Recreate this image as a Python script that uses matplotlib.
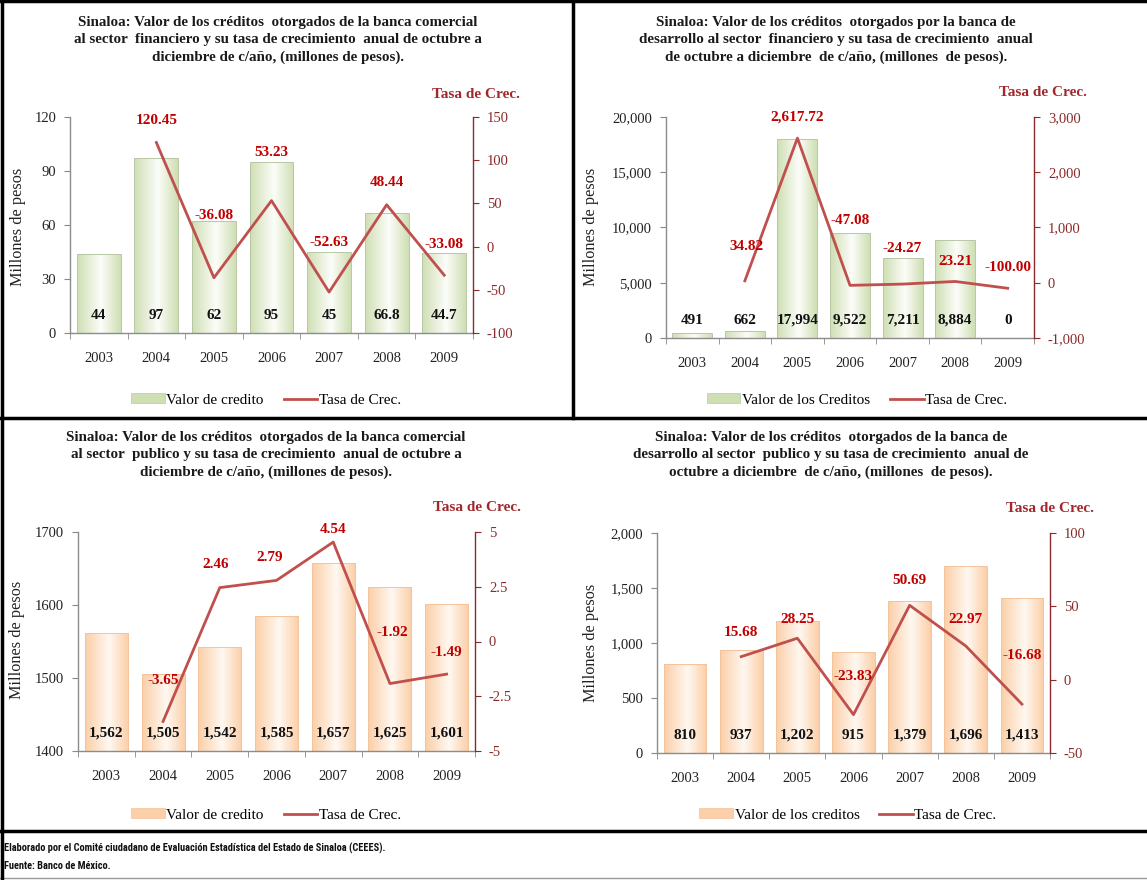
import numpy as np
import matplotlib
matplotlib.use("Agg")
import matplotlib.pyplot as plt
from matplotlib.colors import LinearSegmentedColormap
from matplotlib.patches import Patch
from matplotlib.lines import Line2D
from matplotlib.transforms import blended_transform_factory
from matplotlib import font_manager

plt.rcParams['font.family'] = ['Liberation Serif', 'DejaVu Serif']

years = ['2003', '2004', '2005', '2006', '2007', '2008', '2009']

# Panel 1: banca comercial, sector financiero
val_cf = [44, 97, 62, 95, 45, 66.8, 44.7]
tasa_cf = [np.nan, 120.45, -36.08, 53.23, -52.63, 48.44, -33.08]
# Panel 2: banca de desarrollo, sector financiero
val_df = [491, 662, 17994, 9522, 7211, 8884, 0]
tasa_df = [np.nan, 34.82, 2617.72, -47.08, -24.27, 23.21, -100.00]
# Panel 3: banca comercial, sector publico
val_cp = [1562, 1505, 1542, 1585, 1657, 1625, 1601]
tasa_cp = [np.nan, -3.65, 2.46, 2.79, 4.54, -1.92, -1.49]
# Panel 4: banca de desarrollo, sector publico
val_dp = [810, 937, 1202, 915, 1379, 1696, 1413]
tasa_dp = [np.nan, 15.68, 28.25, -23.83, 50.69, 22.97, -16.68]

titles = [
    "Sinaloa: Valor de los créditos  otorgados de la banca comercial\nal sector  financiero y su tasa de crecimiento  anual de octubre a\ndiciembre de c/año, (millones de pesos).",
    "Sinaloa: Valor de los créditos  otorgados por la banca de\ndesarrollo al sector  financiero y su tasa de crecimiento  anual\nde octubre a diciembre  de c/año, (millones  de pesos).",
    "Sinaloa: Valor de los créditos  otorgados de la banca comercial\nal sector  publico y su tasa de crecimiento  anual de octubre a\ndiciembre de c/año, (millones de pesos).",
    "Sinaloa: Valor de los créditos  otorgados de la banca de\ndesarrollo al sector  publico y su tasa de crecimiento  anual de\noctubre a diciembre  de c/año, (millones  de pesos).",
]
bar_names = ["Valor de credito", "Valor de los Creditos", "Valor de credito", "Valor de los creditos"]
footer = ["Elaborado por el Comité ciudadano de Evaluación Estadística del Estado de Sinaloa (CEEES).",
          "Fuente: Banco de México."]

W, H = 1147, 880
fig = plt.figure(figsize=(W / 100, H / 100), dpi=100)

LINE_C = '#c0504d'
LAB_C = '#c00000'
RAX_C = '#8b2a2a'
GREEN = ('#cfdfb4', '#fcfdf9', '#b9c8a4')
PEACH = ('#fbcfa8', '#fff8f1', '#f3c39c')


def px(x0, y0, x1, y1):
    return [x0 / W, 1 - y1 / H, (x1 - x0) / W, (y1 - y0) / H]


def panel(box, vals, rates, ylim, yticks, rlim, rticks, lfmt, rfmt, colors,
          title, tpos, tasa_pos, ylab_pos, leg_pos, bar_name, offsets):
    ax = fig.add_axes(px(*box))
    x = np.arange(len(years))
    edge, center, outline = colors
    base = ylim[0]
    heights = [v - base for v in vals]
    bars = ax.bar(x, heights, bottom=base, width=0.76, facecolor='none', edgecolor=outline,
                  linewidth=0.7, zorder=2.2)
    cmap = LinearSegmentedColormap.from_list('g', [(0, edge), (0.55, center), (1, edge)])
    grad = np.linspace(0, 1, 64).reshape(1, -1)
    for b in bars:
        bx, by = b.get_xy()
        if b.get_height() <= 0:
            continue
        im = ax.imshow(grad, extent=[bx, bx + b.get_width(), by, by + b.get_height()],
                       aspect='auto', cmap=cmap, zorder=2.1, interpolation='bilinear')
        im.set_clip_path(b)
    ax.set_xlim(-0.5, len(years) - 0.5)
    ax.set_ylim(*ylim)
    ax.set_yticks(yticks)
    ax.set_yticklabels([lfmt(v) for v in yticks])
    ax.set_xticks(x)
    ax.set_xticklabels(years)
    ax.set_xticks(np.arange(-0.5, len(years), 1), minor=True)
    ax.tick_params(axis='x', which='major', length=0, pad=14, labelsize=10.5, colors='#222222')
    ax.tick_params(axis='x', which='minor', length=4, color='#888888', direction='out')
    ax.tick_params(axis='y', length=4, color='#888888', labelsize=10.5, labelcolor='#222222', pad=6)
    for s in ['top', 'right']:
        ax.spines[s].set_visible(False)
    for s in ['left', 'bottom']:
        ax.spines[s].set_color('#8c8c8c')
        ax.spines[s].set_linewidth(1.0)
    trans = blended_transform_factory(ax.transData, ax.transAxes)
    for xi, v in zip(x, vals):
        ax.text(xi, 0.08, f"{v:,g}", transform=trans, ha='center', va='center',
                fontsize=11, fontweight='bold', color='#111111', zorder=5)

    ax2 = ax.twinx()
    ax2.plot(x, rates, color=LINE_C, linewidth=2.0, zorder=3)
    ax2.set_ylim(*rlim)
    ax2.set_yticks(rticks)
    ax2.set_yticklabels([rfmt(v) for v in rticks])
    ax2.set_xlim(-0.5, len(years) - 0.5)
    for s in ['top', 'left', 'bottom']:
        ax2.spines[s].set_visible(False)
    ax2.spines['right'].set_color(RAX_C)
    ax2.spines['right'].set_linewidth(1.0)
    ax2.tick_params(axis='y', length=4, color=RAX_C, labelsize=10.5, labelcolor=RAX_C, pad=6)
    for xi, r, off in zip(x, rates, offsets):
        if np.isnan(r):
            continue
        ax2.annotate(f"{r:,.2f}", (xi, r), xytext=(off[0], off[1]), textcoords='offset pixels',
                     ha='center', va='center', fontsize=11, fontweight='bold', color=LAB_C, zorder=6)

    fig.text(tpos[0] / W, 1 - tpos[1] / H, title, ha='center', va='top', fontsize=10.8,
             fontweight='bold', color='#1a1a1a', linespacing=1.42)
    fig.text(tasa_pos[0] / W, 1 - tasa_pos[1] / H, "Tasa de Crec.", ha='center', va='center',
             fontsize=11, fontweight='bold', color='#a0282d')
    fig.text(ylab_pos[0] / W, 1 - ylab_pos[1] / H, "Millones de pesos", ha='center', va='center',
             rotation=90, fontsize=11.7, color='#222222')
    handles = [Patch(facecolor=edge, edgecolor=outline, linewidth=0.5),
               Line2D([], [], color=LINE_C, linewidth=2.0)]
    ax.legend(handles, [bar_name, "Tasa de Crec."], loc='center', ncol=2, frameon=False,
              bbox_to_anchor=(leg_pos[0] / W, 1 - leg_pos[1] / H), bbox_transform=fig.transFigure,
              fontsize=11, handlelength=2.2, handleheight=0.6, handletextpad=0.1, columnspacing=1.3)


int_fmt = lambda v: f"{v:,.0f}"
plain_fmt = lambda v: f"{v:g}"

panel((70, 117, 473, 333), val_cf, tasa_cf, (0, 120), [0, 30, 60, 90, 120], (-100, 150),
      [-100, -50, 0, 50, 100, 150], plain_fmt, plain_fmt, GREEN, titles[0], (278, 16), (476, 95),
      (18, 227), (266, 400), bar_names[0],
      [(0, 0), (0, 22), (0, 62), (0, 48), (0, 50), (0, 22), (0, 31)])

panel((666, 117, 1034, 338), val_df, tasa_df, (0, 20000), [0, 5000, 10000, 15000, 20000],
      (-1000, 3000), [-1000, 0, 1000, 2000, 3000], int_fmt, int_fmt, GREEN, titles[1], (836, 16),
      (1043, 92), (591, 227), (857, 400), bar_names[1],
      [(0, 0), (2, 34), (0, 21), (0, 65), (0, 36), (0, 20), (0, 21)])

panel((78, 532, 475, 751), val_cp, tasa_cp, (1400, 1700), [1400, 1500, 1600, 1700], (-5, 5),
      [-5, -2.5, 0, 2.5, 5], plain_fmt, plain_fmt, PEACH, titles[2], (266, 431), (477, 507),
      (17, 640), (266, 815), bar_names[2],
      [(0, 0), (0, 41), (-4, 23), (-7, 23), (0, 13), (2, 51), (0, 22)])

panel((657, 533, 1050, 753), val_dp, tasa_dp, (0, 2000), [0, 500, 1000, 1500, 2000], (-50, 100),
      [-50, 0, 50, 100], int_fmt, plain_fmt, PEACH, titles[3], (831, 431), (1050, 508),
      (591, 643), (848, 815), bar_names[3],
      [(0, 0), (0, 24), (0, 19), (0, 38), (0, 25), (0, 26), (0, 49)])


# frame lines
def hline(y, x0, x1, lw, c='black'):
    fig.add_artist(Line2D([x0 / W, x1 / W], [1 - y / H, 1 - y / H], color=c, linewidth=lw,
                          transform=fig.transFigure))


def vline(x, y0, y1, lw, c='black'):
    fig.add_artist(Line2D([x / W, x / W], [1 - y0 / H, 1 - y1 / H], color=c, linewidth=lw,
                          transform=fig.transFigure))


hline(1, 0, W, 2.5)
hline(418, 0, W, 2.5)
hline(831, 0, W, 2.5)
hline(878, 0, W, 1.0, '#999999')
vline(1.5, 0, 880, 2.5)
vline(573, 0, 418, 2.5)

available = {f.name for f in font_manager.fontManager.ttflist}
narrow = [n for n in ['Roboto Condensed', 'Liberation Sans Narrow', 'Open Sans Condensed']
          if n in available]
if narrow:
    foot_fam, foot_size = [narrow[0], 'DejaVu Sans'], 7.5
else:
    foot_fam, foot_size = ['DejaVu Sans'], 5.6

fig.text(4 / W, 1 - 848 / H, footer[0], ha='left', va='center', fontsize=foot_size,
         fontweight='bold', family=foot_fam, color='#111111')
fig.text(4 / W, 1 - 866 / H, footer[1], ha='left', va='center', fontsize=foot_size,
         fontweight='bold', family=foot_fam, color='#111111')

fig.savefig('out.png', dpi=100)
